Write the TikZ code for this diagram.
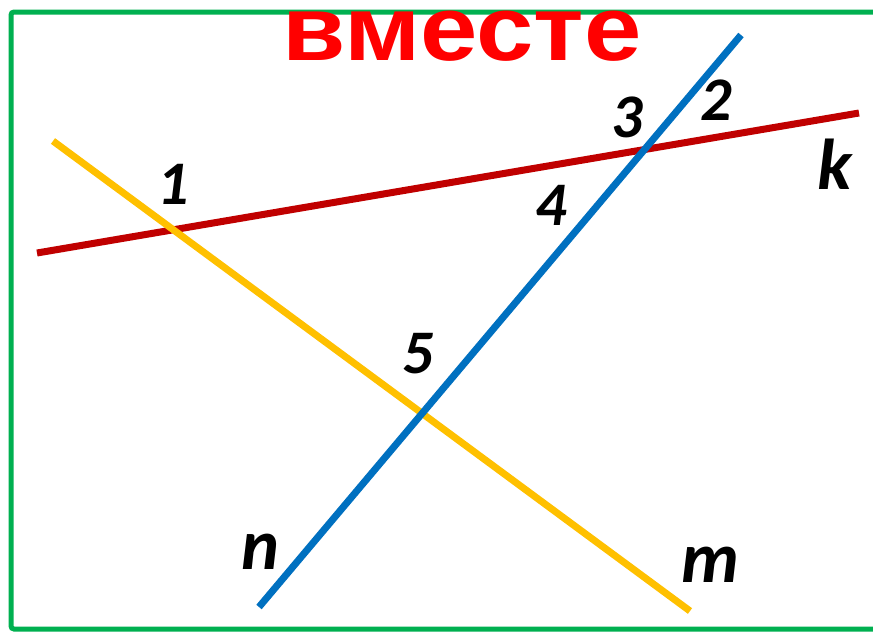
\documentclass[tikz,border=0pt]{standalone}
\usepackage{fontspec}
\setmainfont{Carlito}
\newfontfamily\titlefont{Liberation Sans}
\definecolor{framegreen}{HTML}{00B050}
\definecolor{kred}{HTML}{C00000}
\definecolor{myellow}{HTML}{FFC000}
\definecolor{nblue}{HTML}{0070C0}
\tikzset{
  seg/.style={line width=7pt},
  lab/.style={inner sep=0pt, font=\fontsize{62}{62}\selectfont\bfseries\itshape},
  letlab/.style={inner sep=0pt, font=\fontsize{72}{72}\selectfont\bfseries\itshape}
}
\begin{document}
\begin{tikzpicture}[x=1pt,y=-1pt]
\useasboundingbox (0,0) rectangle (873,633);
\fill[white] (0,0) rectangle (873,633);
\begin{scope}
\clip (0,0) rectangle (873,633);
\draw[framegreen, line width=5pt, rounded corners=3pt] (11,12) rectangle (890,629);
\end{scope}
% lines
\coordinate (k1) at (37,253);
\coordinate (k2) at (859,113);
\coordinate (m1) at (53,141);
\coordinate (m2) at (690,611);
\coordinate (n1) at (259,607);
\coordinate (n2) at (741,35);
\draw[seg, kred] (k1) -- (k2);
\draw[seg, myellow] (m1) -- (m2);
\draw[seg, nblue] (n1) -- (n2);
% title
\node[inner sep=0pt, anchor=base, text=red, xscale=1.12, font=\fontsize{92}{92}\selectfont\titlefont\bfseries] (title) at (462,60) {вместе};
% labels
\node[lab] (l1) at (173,184) {1};
\node[lab] (l2) at (716,100) {2};
\node[lab] (l3) at (627,117) {3};
\node[lab] (l4) at (551,205) {4};
\node[lab] (l5) at (418,354) {5};
\node[letlab] (lk) at (835,164) {k};
\node[letlab] (ln) at (260,552) {n};
\node[letlab] (lm) at (710,565) {m};
\end{tikzpicture}
\end{document}
